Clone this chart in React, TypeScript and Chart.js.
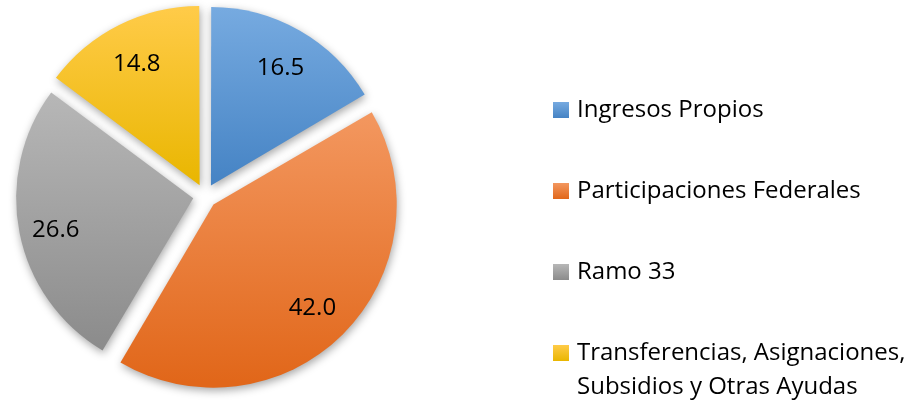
import React, { useEffect, useRef } from "react";
import { Chart, registerables } from "chart.js";

Chart.register(...registerables);

const categories = [
  "Ingresos Propios",
  "Participaciones Federales",
  "Ramo 33",
  "Transferencias, Asignaciones, Subsidios y Otras Ayudas",
];
const legendLines = [
  ["Ingresos Propios"],
  ["Participaciones Federales"],
  ["Ramo 33"],
  ["Transferencias, Asignaciones,", "Subsidios y Otras Ayudas"],
];
const values = [16.5, 42.0, 26.6, 14.8];
const topColors = ["#76aae0", "#f3975f", "#b7b7b7", "#ffcb48"];
const bottomColors = ["#4583c4", "#e1671a", "#8b8b8b", "#e9b600"];

const OFFSET = 48; // Chart.js translates arcs by offset / 4
const RADIUS = 177;
const FONT = "'Open Sans', 'DejaVu Sans', sans-serif";

function sliceGradient(chart: any, i: number, fallback: string) {
  const area = chart.chartArea;
  if (!area) return fallback;
  const total = values.reduce((a, b) => a + b, 0);
  const before = values.slice(0, i).reduce((a, b) => a + b, 0);
  const s = -Math.PI / 2 + (before / total) * 2 * Math.PI;
  const e = s + (values[i] / total) * 2 * Math.PI;
  const cx = (area.left + area.right) / 2;
  const cy = (area.top + area.bottom) / 2;
  const ys = [cy, cy + RADIUS * Math.sin(s), cy + RADIUS * Math.sin(e)];
  for (const a of [-Math.PI / 2, Math.PI / 2, (3 * Math.PI) / 2]) {
    if (a >= s && a <= e) ys.push(cy + RADIUS * Math.sin(a));
  }
  const y0 = Math.min(...ys);
  const y1 = Math.max(...ys);
  const g = chart.ctx.createLinearGradient(0, y0, 0, y1);
  g.addColorStop(0, topColors[i]);
  g.addColorStop(1, bottomColors[i]);
  return g;
}

const shadowPlugin = {
  id: "sliceShadow",
  beforeDatasetsDraw(chart: any) {
    const c = chart.ctx;
    c.save();
    c.shadowColor = "rgba(0,0,0,0.35)";
    c.shadowBlur = 8;
    c.shadowOffsetX = 1;
    c.shadowOffsetY = 3;
  },
  afterDatasetsDraw(chart: any) {
    chart.ctx.restore();
  },
};

const labelPlugin = {
  id: "sliceLabels",
  afterDatasetsDraw(chart: any) {
    const c = chart.ctx;
    const meta = chart.getDatasetMeta(0);
    c.save();
    c.font = `24px ${FONT}`;
    c.fillStyle = "#000000";
    c.textAlign = "center";
    c.textBaseline = "middle";
    meta.data.forEach((arc: any, i: number) => {
      const mid = (arc.startAngle + arc.endAngle) / 2;
      const r = arc.outerRadius * 0.86;
      const x = arc.x + Math.cos(mid) * r;
      const y = arc.y + Math.sin(mid) * r + 4;
      c.fillText(values[i].toFixed(1), x, y);
    });
    c.restore();
  },
};

const legendPlugin = {
  id: "sideLegend",
  afterDraw(chart: any) {
    const c = chart.ctx;
    const boxX = 553;
    const textX = 577;
    const firstY = 110;
    const step = 81;
    const lineH = 34;
    c.save();
    c.font = `24px ${FONT}`;
    c.fillStyle = "#000000";
    c.textAlign = "left";
    c.textBaseline = "middle";
    legendLines.forEach((lines, i) => {
      const y = firstY + step * i;
      const g = c.createLinearGradient(0, y - 8, 0, y + 8);
      g.addColorStop(0, topColors[i]);
      g.addColorStop(1, bottomColors[i]);
      c.fillStyle = g;
      c.fillRect(boxX, y - 8, 16, 16);
      c.fillStyle = "#000000";
      lines.forEach((t, k) => c.fillText(t, textX, y + k * lineH));
    });
    c.restore();
  },
};

export default function App() {
  const ref = useRef<HTMLCanvasElement | null>(null);
  useEffect(() => {
    if (!ref.current) return;
    const chart = new Chart(ref.current, {
      type: "pie",
      data: {
        labels: categories,
        datasets: [
          {
            data: values,
            backgroundColor: (ctx: any) =>
              sliceGradient(ctx.chart, ctx.dataIndex, topColors[ctx.dataIndex]),
            borderWidth: 0,
            offset: OFFSET,
            hoverOffset: OFFSET,
            radius: RADIUS,
          } as any,
        ],
      },
      options: {
        responsive: false,
        animation: false,
        devicePixelRatio: 1,
        layout: { padding: { left: 0, right: 504, top: 0, bottom: 13 } },
        plugins: {
          legend: { display: false },
          tooltip: { enabled: false },
        },
        events: [],
      } as any,
      plugins: [shadowPlugin, labelPlugin, legendPlugin],
    });
    return () => chart.destroy();
  }, []);
  return (
    <div style={{ position: "absolute", left: 0, top: 0, width: 914, height: 405, background: "#ffffff" }}>
      <canvas ref={ref} width={914} height={405} style={{ width: 914, height: 405, display: "block" }} />
    </div>
  );
}
